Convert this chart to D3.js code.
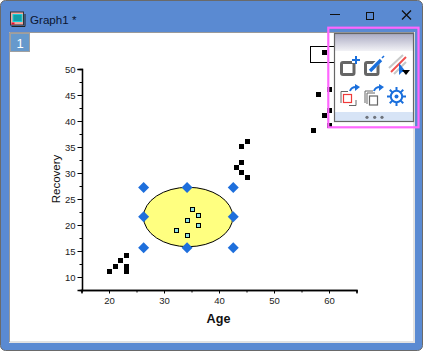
<!DOCTYPE html>
<html><head><meta charset="utf-8">
<style>html,body{margin:0;padding:0;background:#fff}svg{display:block}text{font-family:"Liberation Sans",Arial,sans-serif}</style>
<script src="https://cdn.jsdelivr.net/npm/d3@7"></script></head><body>
<svg id="c" width="423" height="351"></svg>
<script>
const ages=[20,21,22,23,23,23,43,44,44,44,45,45,57,58,59,59,60,60,60];
const recovery=[11,12,13,14,12,11,31,30,32,35,29,36,38,45,41,53,39,42,46];
const roiAges=[32,34,34,35,36,36];
const roiRecovery=[19,18,21,23,20,22];
const handleAges=[26.2,34.1,42.5];
const handleRecovery=[15.7,21.7,27.3];
const ellipseAges=[26.18,42.42];
const ellipseRecovery=[15.92,27.35];
const xTicks=[20,30,40,50,60];
const yTicks=[10,15,20,25,30,35,40,45,50];
const xMinor=[15,25,35,45,55,65];
const yMinor=[7.5,12.5,17.5,22.5,27.5,32.5,37.5,42.5,47.5];
const xTitle="Age", yTitle="Recovery", windowTitle="Graph1 *", layerLabel="1";

const svg=d3.select("#c");
const x=d3.scaleLinear().domain([15,65]).range([82,357]);
const y=d3.scaleLinear().domain([7.5,50]).range([290.5,69.5]);

// window frame
const defs=svg.append("defs");
const g1=defs.append("linearGradient").attr("id","hdr").attr("x1",0).attr("x2",0).attr("y1",0).attr("y2",1);
g1.append("stop").attr("offset",0).attr("stop-color","#acacc4");
g1.append("stop").attr("offset",1).attr("stop-color","#f2f2f6");
svg.append("rect").attr("width",423).attr("height",351).attr("fill","#fff");
svg.append("rect").attr("x",.5).attr("y",.5).attr("width",422).attr("height",350).attr("rx",5).attr("fill","#5a8ad2").attr("stroke","#6a6a6a");
svg.append("rect").attr("x",9).attr("y",32).attr("width",406).attr("height",311).attr("fill","#e2e2e2");
svg.append("path").attr("d","M9.5 342V32.5H414").attr("fill","none").attr("stroke","#9a9a9a");
svg.append("rect").attr("x",10).attr("y",33).attr("width",403).attr("height",308).attr("fill","#fff");

// title bar
const ic=svg.append("g").attr("transform","translate(10.5,12)");
ic.append("rect").attr("x",0).attr("y",0).attr("width",13).attr("height",13).attr("fill","#f4a8a0").attr("stroke","#333");
ic.append("rect").attr("x",2).attr("y",2).attr("width",10).attr("height",8).attr("fill","#18d0d8");
ic.append("path").attr("d","M3 4H11M3 6H11M3 8H11").attr("stroke","#0a5060").attr("stroke-width",.8);
ic.append("rect").attr("x",1).attr("y",10.5).attr("width",3).attr("height",2).attr("fill","#e01030");
ic.append("path").attr("d","M1 14.5H14.5V2").attr("fill","none").attr("stroke","#222");
svg.append("text").attr("x",30).attr("y",24).attr("font-size",11.6).attr("fill","#0b1530").text(windowTitle);
svg.append("path").attr("d","M330 14.5H340").attr("stroke","#111").attr("stroke-width",1);
svg.append("rect").attr("x",366.5).attr("y",12.5).attr("width",7).attr("height",7).attr("fill","none").attr("stroke","#111");
svg.append("path").attr("d","M402 10.5L411 19.5M411 10.5L402 19.5").attr("stroke","#111").attr("stroke-width",1.3);

// layer tab
svg.append("rect").attr("x",10.5).attr("y",33.5).attr("width",19).attr("height",18).attr("fill","#6699cc").attr("stroke","#a0a0a0");
svg.append("text").attr("x",20).attr("y",47.5).attr("text-anchor","middle").attr("font-size",13).attr("fill","#fff").text(layerLabel);

// axes
const yAxis=d3.axisLeft(y).tickValues(yTicks).tickSize(5).tickFormat(d3.format("d")).offset(0);
const xAxis=d3.axisBottom(x).tickValues(xTicks).tickSize(3).tickFormat(d3.format("d")).offset(0);
const ya=svg.append("g").attr("transform","translate(82.5,0)").call(yAxis);
const xa=svg.append("g").attr("transform","translate(0,290.5)").call(xAxis);
svg.append("g").attr("transform","translate(82.5,0)").call(d3.axisLeft(y).tickValues(yMinor).tickSize(3).tickFormat("").offset(0));
svg.append("g").attr("transform","translate(0,290.5)").call(d3.axisBottom(x).tickValues(xMinor).tickSize(2).tickFormat("").offset(0));
svg.selectAll(".domain").attr("stroke","#000").attr("stroke-width",1.3);
svg.selectAll(".tick text").attr("font-family",'"Liberation Sans",Arial,sans-serif').attr("font-size",9.5).attr("fill","#222");
ya.selectAll(".tick text").attr("x",-7);
xa.selectAll(".tick text").attr("y",6.5);
svg.append("text").attr("x",x(40)-1).attr("y",322.5).attr("text-anchor","middle").attr("font-size",12.6).attr("font-weight","bold").attr("fill","#111").text(xTitle);
svg.append("text").attr("transform","translate(60,179) rotate(-90)").attr("text-anchor","middle").attr("font-size",11.5).attr("fill","#111").text(yTitle);

// region of interest
const ex=ellipseAges.map(x), ey=ellipseRecovery.map(y);
svg.append("ellipse").attr("cx",d3.mean(ex)).attr("cy",d3.mean(ey)).attr("rx",(ex[1]-ex[0])/2).attr("ry",(ey[0]-ey[1])/2)
  .attr("fill","#ffff80").attr("stroke","#000").attr("stroke-width",1);

// legend box
svg.append("rect").attr("x",310.5).attr("y",46.5).attr("width",40).attr("height",16).attr("fill","#fff").attr("stroke","#000");

// points
svg.selectAll(".pt").data(ages).join("rect").attr("class","pt")
  .attr("x",d=>Math.round(x(d)-2.5)).attr("y",(d,i)=>Math.floor(y(recovery[i])-3)).attr("width",5).attr("height",5).attr("fill","#000");
svg.selectAll(".roi").data(roiAges).join("rect").attr("class","roi")
  .attr("x",d=>Math.ceil(x(d)-2)+.5).attr("y",(d,i)=>Math.round(y(roiRecovery[i])-2.5)+.5).attr("width",4).attr("height",4)
  .attr("fill","#8fe4e4").attr("stroke","#000").attr("stroke-width",1);

// handles
const hp=[];handleAges.forEach(a=>handleRecovery.forEach(r=>{if(!(a===handleAges[1]&&r===handleRecovery[1]))hp.push([a,r]);}));
svg.selectAll(".h").data(hp).join("path").attr("class","h")
  .attr("transform",d=>`translate(${x(d[0])},${y(d[1])})`)
  .attr("d","M0-5.5L5.5 0L0 5.5L-5.5 0Z").attr("fill","#1e6fdc");

// mini toolbar highlight + panel
svg.append("rect").attr("x",328.3).attr("y",27.7).attr("width",90.2).attr("height",99.6).attr("fill","none").attr("stroke","#ff66ff").attr("stroke-width",2.2);
const p=svg.append("g");
p.append("rect").attr("x",334.5).attr("y",33.5).attr("width",79).attr("height",88).attr("fill","#fff");
p.append("rect").attr("x",335).attr("y",34).attr("width",78).attr("height",17).attr("fill","url(#hdr)");
p.append("rect").attr("x",335).attr("y",112).attr("width",78).attr("height",10).attr("fill","#d7e4f6");
p.append("rect").attr("x",334.5).attr("y",33.5).attr("width",79).attr("height",88).attr("fill","none").attr("stroke","#666").attr("stroke-width",1.2);
[367,374.7,382].forEach(v=>p.append("circle").attr("cx",v).attr("cy",117.3).attr("r",1.6).attr("fill","#6e737c"));
const blue="#1a6fdc", gray="#666";
// icon 1
p.append("rect").attr("x",341.5).attr("y",62.5).attr("width",12.5).attr("height",12).attr("rx",1.5).attr("fill","none").attr("stroke",gray).attr("stroke-width",3);
p.append("rect").attr("x",352).attr("y",57).attr("width",7).attr("height",6).attr("fill","#fff");
p.append("path").attr("d","M352 60H360M356 56V64").attr("stroke",blue).attr("stroke-width",2);
// icon 2
p.append("rect").attr("x",365.5).attr("y",62.5).attr("width",12.5).attr("height",12).attr("rx",1.5).attr("fill","none").attr("stroke",gray).attr("stroke-width",3);
p.append("path").attr("d","M369 71L383 57").attr("stroke","#fff").attr("stroke-width",5);
p.append("path").attr("d","M370 71L381 60").attr("stroke",blue).attr("stroke-width",3.4);
p.append("path").attr("d","M382 58L384 56").attr("stroke",blue).attr("stroke-width",1.6);
// icon 3
p.append("path").attr("d","M389 68L403 55M394 74L406 62").attr("stroke","#c8c8c8").attr("stroke-width",2);
p.append("path").attr("d","M391 72L406 57").attr("stroke","#f05050").attr("stroke-width",2);
p.append("path").attr("d","M399 63L399 75L402 72L406 72Z").attr("fill",blue);
p.append("path").attr("d","M402 70H410L406 75Z").attr("fill","#000");
// icon 4
p.append("path").attr("d","M349 105.5H356V100").attr("fill","none").attr("stroke",gray).attr("stroke-width",1);
p.append("path").attr("d","M341 103V91.5H348").attr("fill","none").attr("stroke",gray).attr("stroke-width",1);
p.append("rect").attr("x",343.5).attr("y",94.5).attr("width",8).attr("height",8).attr("fill","#fff").attr("stroke","#f03a3a").attr("stroke-width",1.2);
p.append("path").attr("d","M350 91C351 88 353 87 356 87").attr("fill","none").attr("stroke",blue).attr("stroke-width",2);
p.append("path").attr("d","M355 84L360 87L355 91Z").attr("fill",blue);
// icon 5
p.append("path").attr("d","M365 103V91H373").attr("fill","none").attr("stroke",gray).attr("stroke-width",1);
p.append("path").attr("d","M367 104V93H375").attr("fill","none").attr("stroke",gray).attr("stroke-width",1);
p.append("rect").attr("x",369.5).attr("y",96).attr("width",8).attr("height",9).attr("fill","#fff").attr("stroke",gray).attr("stroke-width",1.2);
p.append("path").attr("d","M374 91C375 88 377 87 380 87").attr("fill","none").attr("stroke",blue).attr("stroke-width",2);
p.append("path").attr("d","M379 84L384 87L379 91Z").attr("fill",blue);
// icon 6 gear
const gear=p.append("g").attr("transform","translate(396.5,96.5)");
d3.range(8).forEach(i=>gear.append("rect").attr("x",-1).attr("y",-9.5).attr("width",2).attr("height",4).attr("fill",blue).attr("transform",`rotate(${i*45})`));
gear.append("circle").attr("r",5.7).attr("fill","none").attr("stroke",blue).attr("stroke-width",2);
gear.append("circle").attr("r",2).attr("fill",blue);
</script></body></html>
